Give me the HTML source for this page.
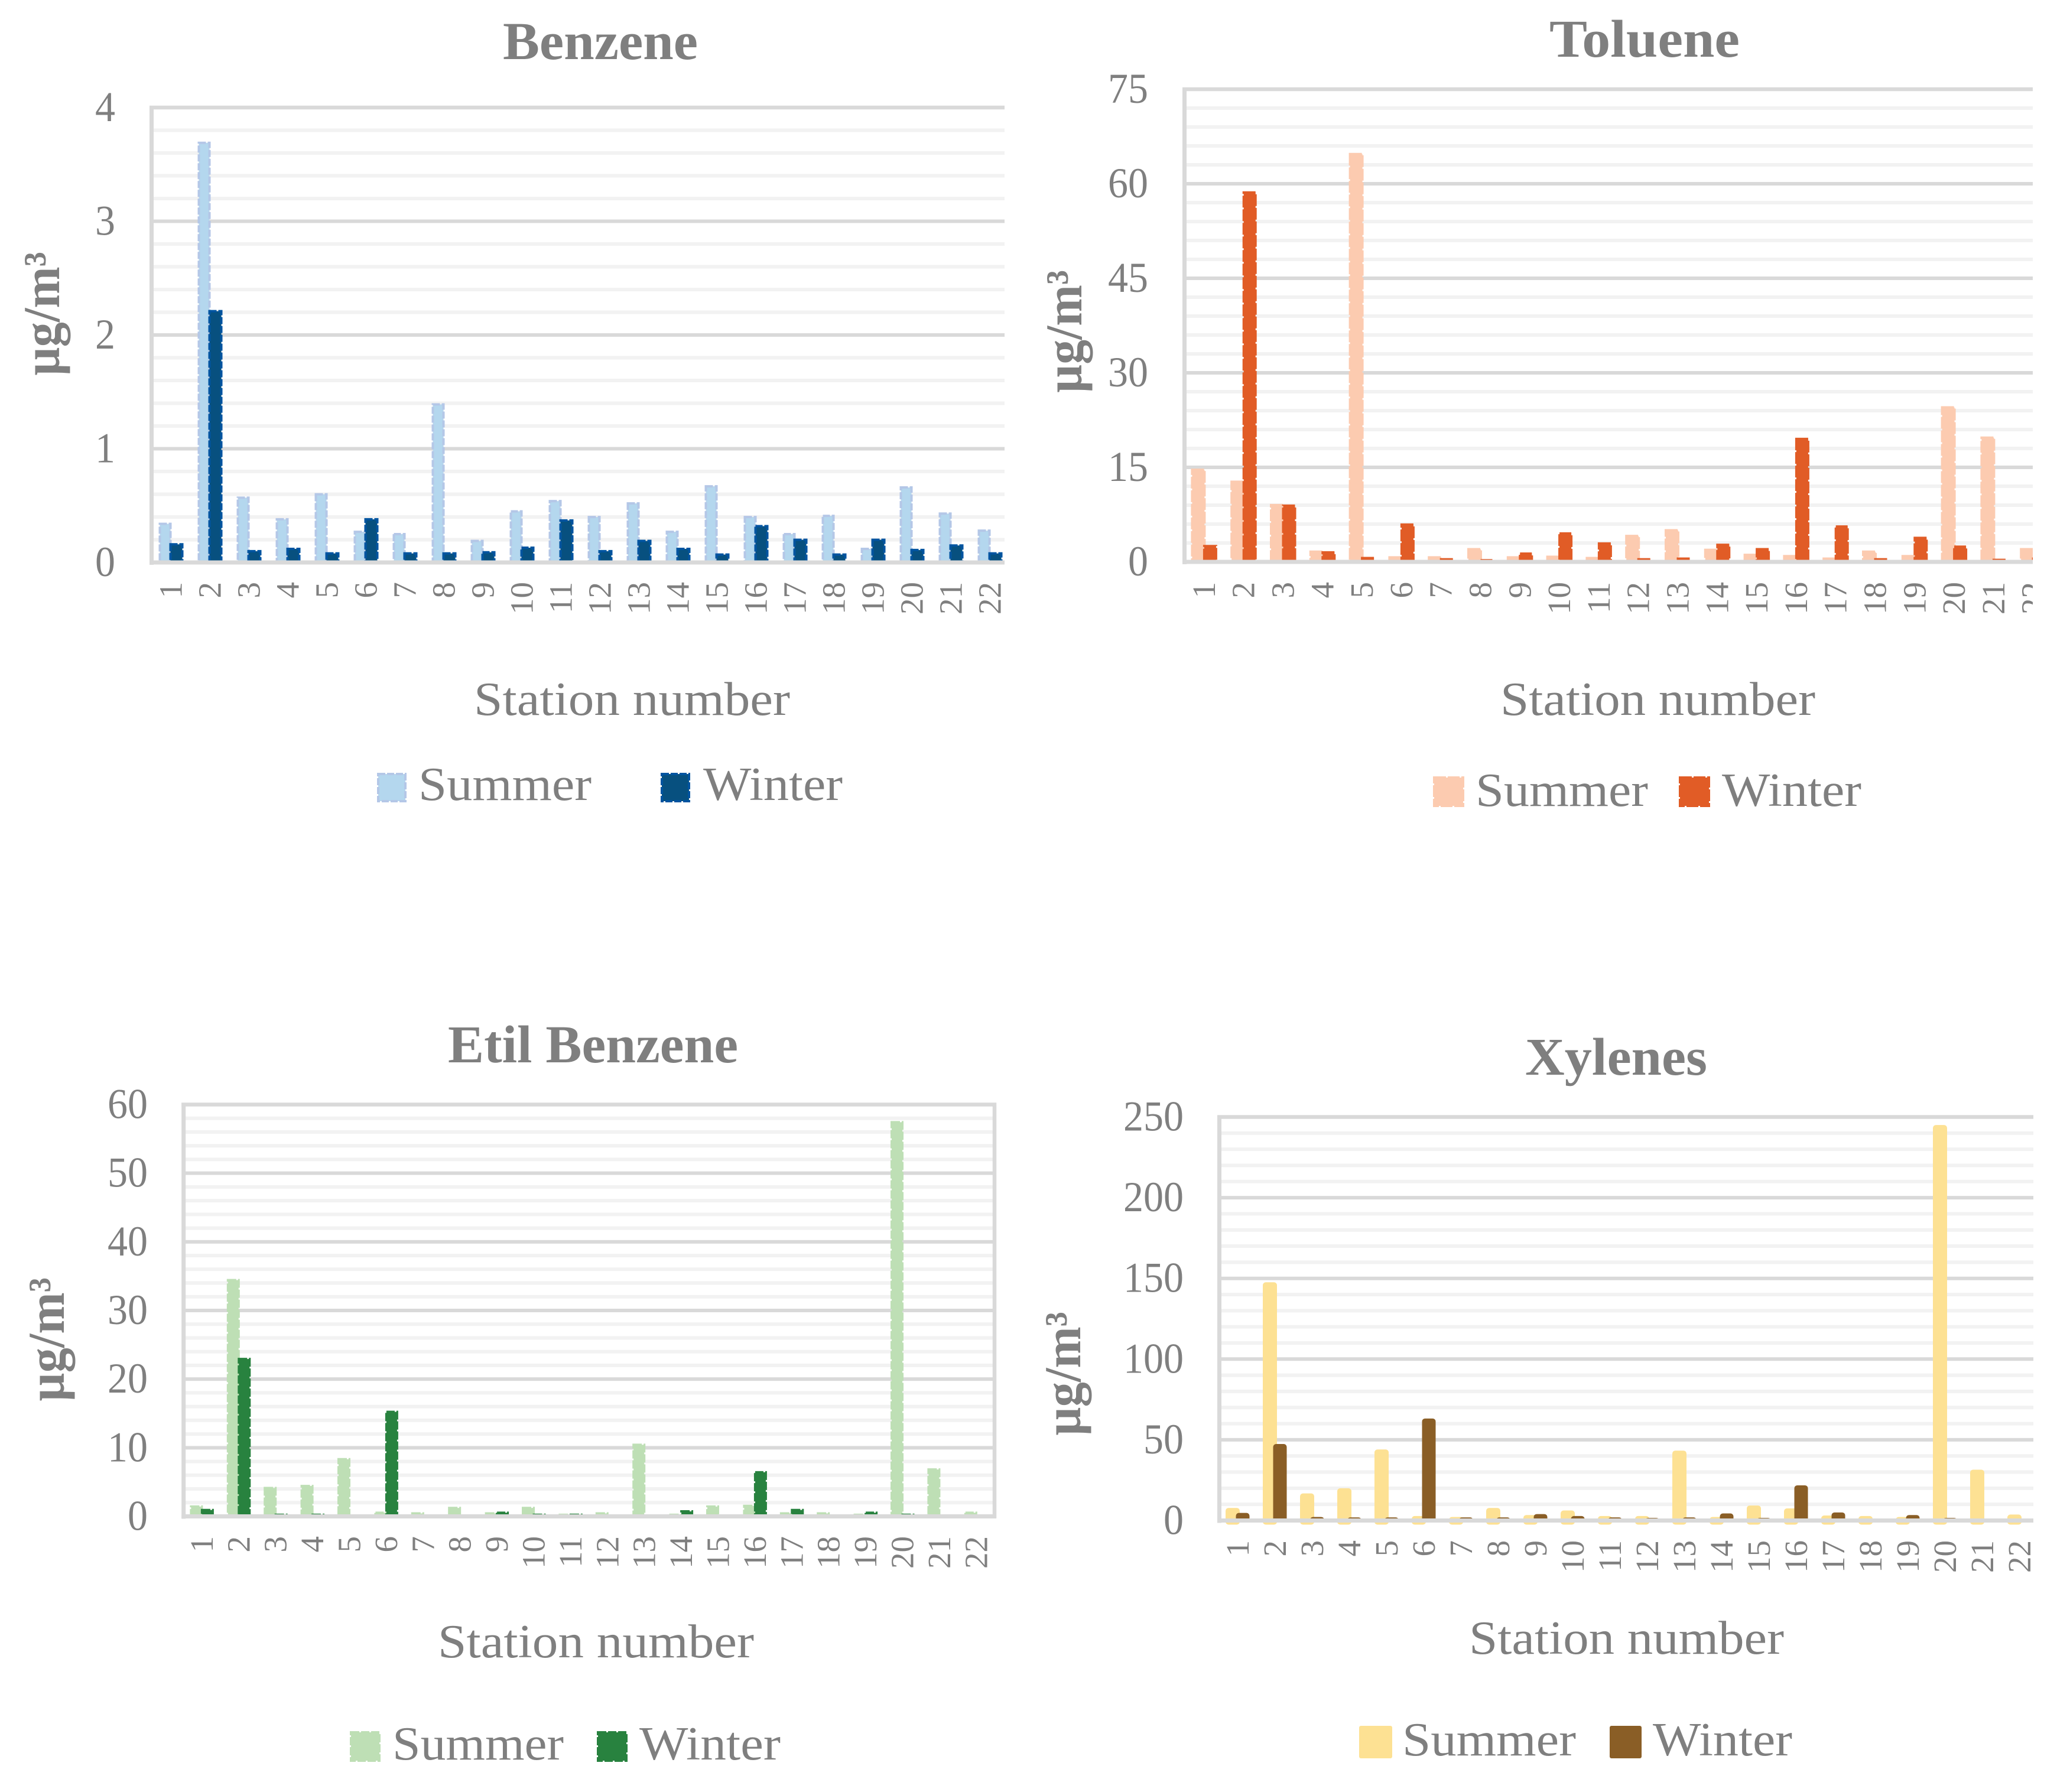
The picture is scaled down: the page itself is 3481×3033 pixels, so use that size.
<!DOCTYPE html>
<html lang="en">
<head>
<meta charset="utf-8">
<title>BTEX concentrations by station</title>
<style>
html,body{margin:0;padding:0;background:#fff;}
body{width:3481px;height:3033px;overflow:hidden;}
svg{display:block;}
text{font-family:"Liberation Serif",serif;fill:#7f7f7f;}
.title{font-size:90px;font-weight:bold;text-anchor:start;}
.axis-title{font-size:80px;}
.unit{font-size:88px;font-weight:bold;}
.legend{font-size:80px;}
</style>
</head>
<body>
<svg id="figure" xmlns="http://www.w3.org/2000/svg" width="3481" height="3033" viewBox="0 0 3481 3033">
  <rect width="3481" height="3033" fill="#ffffff"/>
  <defs>
    <clipPath id="clip-benzene"><rect x="240" y="170" width="1460" height="900"/></clipPath>
    <clipPath id="clip-toluene"><rect x="1990" y="140" width="1450" height="930"/></clipPath>
    <clipPath id="clip-etil"><rect x="290" y="1850" width="1410" height="840"/></clipPath>
    <clipPath id="clip-xylenes"><rect x="2050" y="1880" width="1391" height="810"/></clipPath>
  </defs>

  <g id="chart-benzene">
    <text class="title" x="851" y="100" textLength="330" lengthAdjust="spacingAndGlyphs">Benzene</text>
    <text class="unit" transform="translate(100 636) rotate(-90)" textLength="210" lengthAdjust="spacingAndGlyphs">µg/m³</text>
    <text class="axis-title" x="802" y="1210" textLength="535" lengthAdjust="spacingAndGlyphs">Station number</text>
    <g>
      <rect x="640" y="1310" width="46" height="46" fill="#b4d7ee" stroke="#b4c7e7" stroke-width="4" stroke-dasharray="12 3"/>
      <text class="legend" x="708" y="1354" textLength="293" lengthAdjust="spacingAndGlyphs">Summer</text>
      <rect x="1120" y="1310" width="46" height="46" fill="#07507f" stroke="#0054a0" stroke-width="4" stroke-dasharray="12 3"/>
      <text class="legend" x="1190" y="1354" textLength="236" lengthAdjust="spacingAndGlyphs">Winter</text>
    </g>
  </g>

  <g id="chart-toluene">
    <text class="title" x="2622" y="96" textLength="322" lengthAdjust="spacingAndGlyphs">Toluene</text>
    <text class="unit" transform="translate(1830 665) rotate(-90)" textLength="208" lengthAdjust="spacingAndGlyphs">µg/m³</text>
    <text class="axis-title" x="2539" y="1210" textLength="533" lengthAdjust="spacingAndGlyphs">Station number</text>
    <g>
      <rect x="2427" y="1316" width="49" height="48" fill="#fccbb0" stroke="#fccbb0" stroke-width="4" stroke-dasharray="20 3"/>
      <text class="legend" x="2497" y="1364" textLength="292" lengthAdjust="spacingAndGlyphs">Summer</text>
      <rect x="2843" y="1316" width="49" height="48" fill="#e15c26" stroke="#e15c26" stroke-width="4" stroke-dasharray="20 3"/>
      <text class="legend" x="2914" y="1364" textLength="236" lengthAdjust="spacingAndGlyphs">Winter</text>
    </g>
  </g>

  <g id="chart-etil">
    <text class="title" x="758" y="1798" textLength="491" lengthAdjust="spacingAndGlyphs">Etil Benzene</text>
    <text class="unit" transform="translate(108 2372) rotate(-90)" textLength="210" lengthAdjust="spacingAndGlyphs">µg/m³</text>
    <text class="axis-title" x="741" y="2805" textLength="535" lengthAdjust="spacingAndGlyphs">Station number</text>
    <g>
      <rect x="594" y="2932" width="48" height="48" fill="#bedfb5" stroke="#bedfb5" stroke-width="4" stroke-dasharray="14 3"/>
      <text class="legend" x="664" y="2978" textLength="290" lengthAdjust="spacingAndGlyphs">Summer</text>
      <rect x="1012" y="2932" width="48" height="48" fill="#28823f" stroke="#28823f" stroke-width="4" stroke-dasharray="14 3"/>
      <text class="legend" x="1082" y="2978" textLength="239" lengthAdjust="spacingAndGlyphs">Winter</text>
    </g>
  </g>

  <g id="chart-xylenes">
    <text class="title" x="2581" y="1819" textLength="308" lengthAdjust="spacingAndGlyphs">Xylenes</text>
    <text class="unit" transform="translate(1828 2430) rotate(-90)" textLength="210" lengthAdjust="spacingAndGlyphs">µg/m³</text>
    <text class="axis-title" x="2486" y="2799" textLength="533" lengthAdjust="spacingAndGlyphs">Station number</text>
    <g>
      <rect x="2300" y="2921" width="56" height="55" rx="3" fill="#fde193"/>
      <text class="legend" x="2373" y="2971" textLength="294" lengthAdjust="spacingAndGlyphs">Summer</text>
      <rect x="2724" y="2921" width="54" height="55" rx="3" fill="#8a5e26"/>
      <text class="legend" x="2797" y="2971" textLength="236" lengthAdjust="spacingAndGlyphs">Winter</text>
    </g>
  </g>
</svg>

<script>
const stations = ['1','2','3','4','5','6','7','8','9','10','11','12','13','14','15','16','17','18','19','20','21','22'];

const benzeneTicks = [0, 1, 2, 3, 4];
const benzeneSummer = [0.35, 3.7, 0.58, 0.39, 0.61, 0.28, 0.26, 1.40, 0.20, 0.46, 0.55, 0.41, 0.53, 0.28, 0.68, 0.41, 0.26, 0.42, 0.13, 0.67, 0.44, 0.29];
const benzeneWinter = [0.17, 2.22, 0.11, 0.13, 0.09, 0.39, 0.09, 0.09, 0.10, 0.14, 0.38, 0.11, 0.20, 0.13, 0.08, 0.33, 0.21, 0.08, 0.21, 0.12, 0.16, 0.09];

const tolueneTicks = [0, 15, 30, 45, 60, 75];
const tolueneSummer = [14.8, 12.9, 9.2, 1.8, 64.9, 0.9, 0.9, 2.2, 0.9, 1.0, 0.8, 4.3, 5.2, 2.1, 1.3, 1.1, 0.7, 1.8, 1.1, 24.7, 19.9, 2.2];
const tolueneWinter = [2.7, 58.8, 9.1, 1.7, 0.8, 6.1, 0.6, 0.45, 1.5, 4.7, 3.1, 0.6, 0.7, 2.9, 2.2, 19.7, 5.8, 0.6, 4.0, 2.6, 0.5, 0.7];

const etilTicks = [0, 10, 20, 30, 40, 50, 60];
const etilSummer = [1.6, 34.6, 4.3, 4.6, 8.5, 0.7, 0.6, 1.4, 0.6, 1.4, 0.4, 0.6, 10.6, 0.4, 1.6, 1.7, 0.6, 0.6, 0.4, 57.6, 7.0, 0.7];
const etilWinter = [1.1, 23.1, 0.4, 0.4, 0.3, 15.4, 0.3, 0.25, 0.7, 0.4, 0.4, 0.2, 0.3, 0.9, 0.3, 6.6, 1.1, 0.15, 0.7, 0.4, 0.25, 0.2];

const xylenesTicks = [0, 50, 100, 150, 200, 250];
const xylenesSummer = [7.8, 147.6, 16.8, 20, 44, 2.8, 2.2, 7.8, 3.4, 6.2, 2.8, 2.8, 43.3, 2.2, 9.3, 7.5, 3.1, 2.8, 2.2, 245, 31.5, 3.7];
const xylenesWinter = [4.7, 47.4, 2.2, 1.9, 1.9, 63.2, 1.9, 1.9, 4, 2.8, 1.9, 1.6, 1.9, 4.4, 1.6, 21.8, 5, 1.2, 3.4, 1.6, 1.2, 1];

const NS = 'http://www.w3.org/2000/svg';

function make(tag, attrs, parent) {
  const el = document.createElementNS(NS, tag);
  for (const k in attrs) el.setAttribute(k, attrs[k]);
  parent.appendChild(el);
  return el;
}

function drawChart(opt, ticks, summer, winter) {
  const host = document.getElementById(opt.id);
  const yMax = ticks[ticks.length - 1];
  const xBand = i => opt.left + (i + 0.5) * opt.band;
  const yScale = v => opt.base - (v / yMax) * (opt.base - opt.top);

  const plot = make('g', {'clip-path': 'url(#' + opt.clip + ')'}, host);
  
  

  // minor gridlines
  const tickGap = ticks[1] - ticks[0];
  for (let t = 0; t < ticks.length - 1; t++) {
    for (let m = 1; m < 5; m++) {
      const y = yScale(ticks[t] + tickGap * m / 5);
      const minor = make('line', {x1: opt.left + 3, x2: opt.right, y1: y, y2: y, stroke: '#f2f2f2', 'stroke-width': 6}, plot);
      
      
    }
  }
  // major gridlines
  ticks.forEach(t => {
    if (t === 0 || t === yMax) return;
    const y = yScale(t);
    const major = make('line', {x1: opt.left, x2: opt.right, y1: y, y2: y, stroke: '#d9d9d9', 'stroke-width': 6}, plot);
    
    
  });

  const barAttrs = (cx, w, v, fill, stroke, bleed) => {
    const sw = 4;
    const top = yScale(v) + sw / 2;
    const a = {x: cx - w / 2 + sw / 2, width: w - sw, y: top, height: Math.max(opt.base + bleed - top, 1), fill: fill, stroke: stroke, 'stroke-width': sw};
    if (opt.dash) a['stroke-dasharray'] = opt.dash;
    if (!opt.dash) a.rx = 3;
    return a;
  };

  summer.forEach((v, i) => {
    const bar = make('rect', barAttrs(xBand(i) + opt.sumOff, opt.sumW, v, opt.sumFill, opt.sumStroke, opt.sumBleed), plot);
    
    
  });
  winter.forEach((v, i) => {
    const bar = make('rect', barAttrs(xBand(i) + opt.winOff, opt.winW, v, opt.winFill, opt.winStroke, 0), plot);
    
    
  });

  // frame
  const frame = make('g', {stroke: '#d9d9d9', fill: 'none'}, plot);
  
  
  const topLine = make('line', {x1: opt.left - 3.5, x2: opt.right + 3, y1: opt.top, y2: opt.top, 'stroke-width': 6.5}, frame);
  
  
  const leftLine = make('line', {x1: opt.left, x2: opt.left, y1: opt.top - 3, y2: opt.base + 4, 'stroke-width': 7}, frame);
  
  
  const baseLine = make('line', {x1: opt.left - 3.5, x2: opt.right + 3, y1: opt.base, y2: opt.base, 'stroke-width': 7}, frame);
  
  
  if (opt.rightLine) {
    const rightLine = make('line', {x1: opt.right, x2: opt.right, y1: opt.top - 3, y2: opt.base + 3, 'stroke-width': 6.5}, frame);
    
    
  }

  // y tick labels
  ticks.forEach(t => {
    const s = String(t);
    const label = make('text', {x: opt.tickRight, y: yScale(t) + 23, 'text-anchor': 'end', 'font-size': 72, textLength: s.length * 34, lengthAdjust: 'spacingAndGlyphs'}, host);
    label.textContent = s;
    
    
  });

  // x tick labels
  stations.forEach((s, i) => {
    const x = xBand(i) + 18;
    const label = make('text', {transform: 'translate(' + x + ' ' + opt.labelTop + ') rotate(-90)', 'text-anchor': 'end', 'font-size': 55}, plot);
    label.textContent = s;
    
    
  });
}

drawChart({id: 'chart-benzene', clip: 'clip-benzene', left: 256.5, right: 1700, top: 182, base: 952, band: 66,
  sumOff: -10, winOff: 9, sumW: 22, winW: 24, sumBleed: 0, sumFill: '#b4d7ee', sumStroke: '#b4c7e7', winFill: '#07507f', winStroke: '#0054a0',
  dash: '12 3', rightLine: false, tickRight: 195, labelTop: 985}, benzeneTicks, benzeneSummer, benzeneWinter);

drawChart({id: 'chart-toluene', clip: 'clip-toluene', left: 2004.5, right: 3440, top: 151, base: 951, band: 66.8,
  sumOff: -10, winOff: 10, sumW: 25, winW: 24, sumBleed: 0, sumFill: '#fccbb0', sumStroke: '#fccbb0', winFill: '#e15c26', winStroke: '#e15c26',
  dash: '20 3', rightLine: false, tickRight: 1943, labelTop: 985}, tolueneTicks, tolueneSummer, tolueneWinter);

drawChart({id: 'chart-etil', clip: 'clip-etil', left: 310.7, right: 1683, top: 1869.5, base: 2566.5, band: 62.4,
  sumOff: -9.5, winOff: 9, sumW: 22, winW: 22, sumBleed: 0, sumFill: '#bedfb5', sumStroke: '#bedfb5', winFill: '#28823f', winStroke: '#28823f',
  dash: '14 3', rightLine: true, tickRight: 250, labelTop: 2600}, etilTicks, etilSummer, etilWinter);

drawChart({id: 'chart-xylenes', clip: 'clip-xylenes', left: 2063.5, right: 3441, top: 1890.5, base: 2573.5, band: 63,
  sumOff: -9, winOff: 8, sumW: 24, winW: 23, sumBleed: 5, sumFill: '#fde193', sumStroke: '#fde193', winFill: '#8a5e26', winStroke: '#8a5e26',
  dash: '', rightLine: false, tickRight: 2003, labelTop: 2607}, xylenesTicks, xylenesSummer, xylenesWinter);
</script>
</body>
</html>
